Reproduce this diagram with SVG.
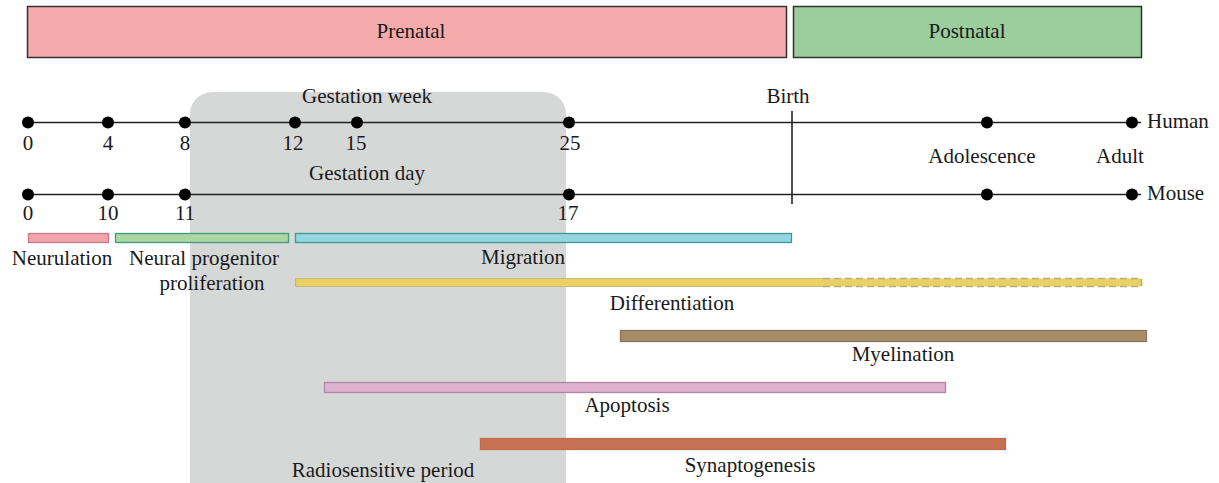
<svg xmlns="http://www.w3.org/2000/svg" width="1219" height="483" viewBox="0 0 1219 483">
<style>
text{font-size:21px;fill:#1a1a1a}
.m{text-anchor:middle}
.axis{stroke:#222;stroke-width:1.6;fill:none}
.dot{fill:#000}
.bar{stroke-width:1.3}
</style>
<rect width="1219" height="483" fill="#fff"/>
<g font-family="'Liberation Serif', 'DejaVu Serif', serif">
<g id="radiosensitive">
<rect x="190" y="92" width="376" height="420" rx="22" fill="#d6d8d7"/>
<text class="m" x="383" y="477">Radiosensitive period</text>
</g>
<g id="prenatal">
<rect x="27.5" y="6.5" width="759" height="51" fill="#f5aaab" stroke="#333" stroke-width="1.5"/>
<text class="m" x="411" y="38">Prenatal</text>
</g>
<g id="postnatal">
<rect x="793.5" y="6.5" width="348" height="51" fill="#9bcd9d" stroke="#333" stroke-width="1.5"/>
<text class="m" x="967" y="38">Postnatal</text>
</g>
<g id="connectors">
<line class="axis" x1="28" y1="122.5" x2="1141" y2="122.5"/>
<line class="axis" x1="28" y1="194.5" x2="1141" y2="194.5"/>
<line class="axis" x1="792" y1="111" x2="792" y2="204"/>
</g>
<g id="human-axis">
<circle class="dot" cx="28" cy="122.5" r="6"/>
<circle class="dot" cx="108" cy="122.5" r="6"/>
<circle class="dot" cx="185" cy="122.5" r="6"/>
<circle class="dot" cx="295" cy="122.5" r="6"/>
<circle class="dot" cx="357" cy="122.5" r="6"/>
<circle class="dot" cx="569" cy="122.5" r="6"/>
<circle class="dot" cx="987" cy="122.5" r="6"/>
<circle class="dot" cx="1132" cy="122.5" r="6"/>
<text class="m" x="28" y="150">0</text>
<text class="m" x="108" y="150">4</text>
<text class="m" x="185" y="150">8</text>
<text class="m" x="293" y="150">12</text>
<text class="m" x="356" y="150">15</text>
<text class="m" x="570" y="150">25</text>
<text class="m" x="367" y="103">Gestation week</text>
<text class="m" x="788" y="103">Birth</text>
<text x="1147" y="128">Human</text>
<text class="m" x="982" y="163">Adolescence</text>
<text class="m" x="1120" y="163">Adult</text>
</g>
<g id="mouse-axis">
<circle class="dot" cx="28" cy="194.5" r="6"/>
<circle class="dot" cx="108" cy="194.5" r="6"/>
<circle class="dot" cx="185" cy="194.5" r="6"/>
<circle class="dot" cx="569" cy="194.5" r="6"/>
<circle class="dot" cx="987" cy="194.5" r="6"/>
<circle class="dot" cx="1132" cy="194.5" r="6"/>
<text class="m" x="28" y="220">0</text>
<text class="m" x="108" y="220">10</text>
<text class="m" x="185" y="220">11</text>
<text class="m" x="568" y="220">17</text>
<text class="m" x="367" y="180">Gestation day</text>
<text x="1147" y="200">Mouse</text>
</g>
<g id="neurulation">
<rect class="bar" x="28.5" y="233.5" width="80" height="9" fill="#f2a4ad" stroke="#c87a85"/>
<text class="m" x="62" y="265">Neurulation</text>
</g>
<g id="proliferation">
<rect class="bar" x="115.5" y="233.5" width="173" height="9" fill="#abd6a2" stroke="#3f9a82"/>
<text class="m" x="204" y="265">Neural progenitor</text>
<text class="m" x="212" y="290">proliferation</text>
</g>
<g id="migration">
<rect class="bar" x="295.5" y="233.5" width="496" height="9" fill="#93d5e1" stroke="#3a9898"/>
<text class="m" x="523" y="264">Migration</text>
</g>
<g id="differentiation">
<rect x="295" y="278.5" width="847" height="8" fill="#e9d163"/>
<path d="M295.5 278.5H823M295.5 286.5H823M295.5 278.5V286.5" stroke="#c9b87a" stroke-width="1.2" fill="none"/>
<path d="M823 278.5H1141.5V286.5H823" stroke="#b8aa82" stroke-width="1.5" stroke-dasharray="7,4" fill="none"/>
<text class="m" x="672" y="310">Differentiation</text>
</g>
<g id="myelination">
<rect class="bar" x="620.5" y="330.5" width="526" height="11" fill="#a88c64" stroke="#8a7562"/>
<text class="m" x="903" y="361">Myelination</text>
</g>
<g id="apoptosis">
<rect class="bar" x="324.5" y="382.5" width="621" height="10" fill="#deb3d0" stroke="#b383a6"/>
<text class="m" x="627" y="412">Apoptosis</text>
</g>
<g id="synaptogenesis">
<rect class="bar" x="480.5" y="438.5" width="525" height="11" fill="#c47252" stroke="#c06a4a"/>
<text class="m" x="750" y="472">Synaptogenesis</text>
</g>
</g>
</svg>
